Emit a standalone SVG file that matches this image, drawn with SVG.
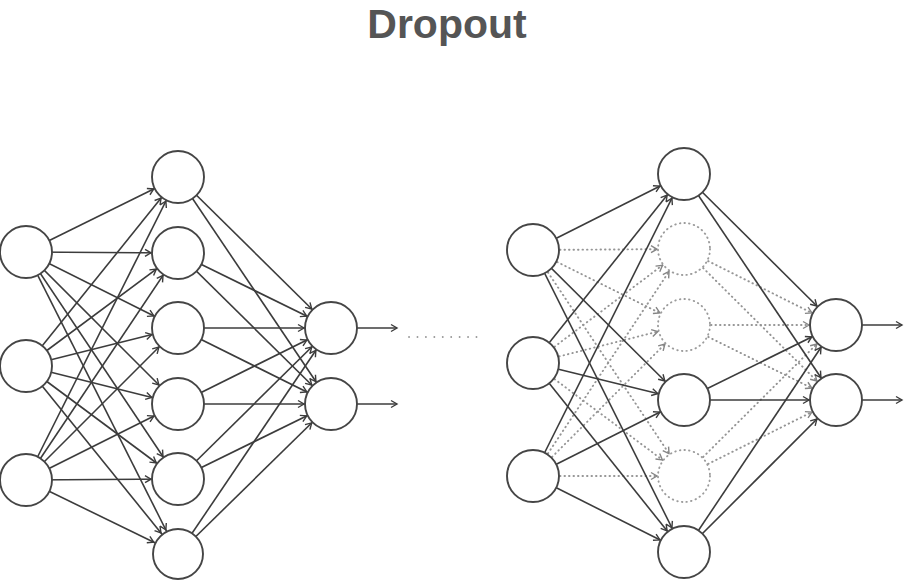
<svg xmlns="http://www.w3.org/2000/svg" width="904" height="580" viewBox="0 0 904 580">
<defs>
<style>
.title{font-family:"Liberation Sans",Arial,sans-serif;font-weight:bold;font-size:41px;fill:#555555;text-anchor:middle}
.c{stroke:#3c3c3c;stroke-width:1.6;fill:none}
.d{stroke:#959595;stroke-width:1.9;fill:none;stroke-dasharray:0.5 4;stroke-linecap:round}
.n{fill:#fff;stroke:#454545;stroke-width:1.9}
.nd{fill:#fff;stroke:#9c9c9c;stroke-width:1.9;stroke-dasharray:0.5 4.2;stroke-linecap:round}
</style>
<marker id="a" markerUnits="userSpaceOnUse" markerWidth="12" markerHeight="12" refX="33" refY="0" orient="auto" overflow="visible"><path d="M0,-3.5 L6,0 L0,3.5" fill="none" stroke="#3c3c3c" stroke-width="1.4"/></marker>
<marker id="ag" markerUnits="userSpaceOnUse" markerWidth="12" markerHeight="12" refX="33" refY="0" orient="auto" overflow="visible"><path d="M0,-3.5 L6,0 L0,3.5" fill="none" stroke="#858585" stroke-width="1.4"/></marker>
<marker id="ao" markerUnits="userSpaceOnUse" markerWidth="12" markerHeight="12" refX="6" refY="0" orient="auto" overflow="visible"><path d="M0,-3.5 L6,0 L0,3.5" fill="none" stroke="#3c3c3c" stroke-width="1.4"/></marker>
</defs>
<rect width="904" height="580" fill="#fff"/>
<text class="title" x="447" y="37.5">Dropout</text>

<g id="connectors">
<g class="c" marker-end="url(#a)">
<line x1="26" y1="252" x2="178" y2="177"/><line x1="26" y1="252" x2="178" y2="253"/><line x1="26" y1="252" x2="178" y2="328"/><line x1="26" y1="252" x2="178" y2="404"/><line x1="26" y1="252" x2="178" y2="479"/><line x1="26" y1="252" x2="178" y2="554"/>
<line x1="26" y1="366" x2="178" y2="177"/><line x1="26" y1="366" x2="178" y2="253"/><line x1="26" y1="366" x2="178" y2="328"/><line x1="26" y1="366" x2="178" y2="404"/><line x1="26" y1="366" x2="178" y2="479"/><line x1="26" y1="366" x2="178" y2="554"/>
<line x1="26" y1="480" x2="178" y2="177"/><line x1="26" y1="480" x2="178" y2="253"/><line x1="26" y1="480" x2="178" y2="328"/><line x1="26" y1="480" x2="178" y2="404"/><line x1="26" y1="480" x2="178" y2="479"/><line x1="26" y1="480" x2="178" y2="554"/>
<line x1="178" y1="177" x2="331" y2="328"/><line x1="178" y1="177" x2="331" y2="404"/>
<line x1="178" y1="253" x2="331" y2="328"/><line x1="178" y1="253" x2="331" y2="404"/>
<line x1="178" y1="328" x2="331" y2="328"/><line x1="178" y1="328" x2="331" y2="404"/>
<line x1="178" y1="404" x2="331" y2="328"/><line x1="178" y1="404" x2="331" y2="404"/>
<line x1="178" y1="479" x2="331" y2="328"/><line x1="178" y1="479" x2="331" y2="404"/>
<line x1="178" y1="554" x2="331" y2="328"/><line x1="178" y1="554" x2="331" y2="404"/>
</g>
<g class="c" marker-end="url(#ao)">
<line x1="357" y1="328" x2="397" y2="328"/><line x1="357" y1="404" x2="397" y2="404"/>
<line x1="862" y1="325" x2="902" y2="325"/><line x1="862" y1="400" x2="902" y2="400"/>
</g>
<line x1="409" y1="337" x2="484" y2="337" stroke="#999" stroke-width="1.8" stroke-linecap="round" stroke-dasharray="0.1 8.33"/>
<g class="d" marker-end="url(#ag)">
<line x1="533" y1="250" x2="684" y2="249"/><line x1="533" y1="250" x2="684" y2="325"/><line x1="533" y1="250" x2="684" y2="476"/>
<line x1="533" y1="363" x2="684" y2="249"/><line x1="533" y1="363" x2="684" y2="325"/><line x1="533" y1="363" x2="684" y2="476"/>
<line x1="533" y1="476" x2="684" y2="249"/><line x1="533" y1="476" x2="684" y2="325"/><line x1="533" y1="476" x2="684" y2="476"/>
<line x1="684" y1="249" x2="836" y2="325"/><line x1="684" y1="249" x2="836" y2="400"/>
<line x1="684" y1="325" x2="836" y2="325"/><line x1="684" y1="325" x2="836" y2="400"/>
<line x1="684" y1="476" x2="836" y2="325"/><line x1="684" y1="476" x2="836" y2="400"/>
</g>
<g class="c" marker-end="url(#a)">
<line x1="533" y1="250" x2="684" y2="174"/><line x1="533" y1="250" x2="684" y2="400"/><line x1="533" y1="250" x2="684" y2="552"/>
<line x1="533" y1="363" x2="684" y2="174"/><line x1="533" y1="363" x2="684" y2="400"/><line x1="533" y1="363" x2="684" y2="552"/>
<line x1="533" y1="476" x2="684" y2="174"/><line x1="533" y1="476" x2="684" y2="400"/><line x1="533" y1="476" x2="684" y2="552"/>
<line x1="684" y1="174" x2="836" y2="325"/><line x1="684" y1="174" x2="836" y2="400"/>
<line x1="684" y1="400" x2="836" y2="325"/><line x1="684" y1="400" x2="836" y2="400"/>
<line x1="684" y1="552" x2="836" y2="325"/><line x1="684" y1="552" x2="836" y2="400"/>
</g>
</g>

<g id="L-in1"><circle class="n" cx="26" cy="252" r="26"/></g>
<g id="L-in2"><circle class="n" cx="26" cy="366" r="26"/></g>
<g id="L-in3"><circle class="n" cx="26" cy="480" r="26"/></g>
<g id="L-h1"><circle class="n" cx="178" cy="177" r="26"/></g>
<g id="L-h2"><circle class="n" cx="178" cy="253" r="26"/></g>
<g id="L-h3"><circle class="n" cx="178" cy="328" r="26"/></g>
<g id="L-h4"><circle class="n" cx="178" cy="404" r="26"/></g>
<g id="L-h5"><circle class="n" cx="178" cy="479" r="26"/></g>
<g id="L-h6"><circle class="n" cx="178" cy="554" r="25"/></g>
<g id="L-o1"><circle class="n" cx="331" cy="328" r="26"/></g>
<g id="L-o2"><circle class="n" cx="331" cy="404" r="26"/></g>

<g id="R-in1"><circle class="n" cx="533" cy="250" r="26"/></g>
<g id="R-in2"><circle class="n" cx="533" cy="363" r="26"/></g>
<g id="R-in3"><circle class="n" cx="533" cy="476" r="26"/></g>
<g id="R-h1"><circle class="n" cx="684" cy="174" r="26"/></g>
<g id="R-h2"><circle class="nd" cx="684" cy="249" r="26"/></g>
<g id="R-h3"><circle class="nd" cx="684" cy="325" r="26"/></g>
<g id="R-h4"><circle class="n" cx="684" cy="400" r="26"/></g>
<g id="R-h5"><circle class="nd" cx="684" cy="476" r="26"/></g>
<g id="R-h6"><circle class="n" cx="684" cy="552" r="26"/></g>
<g id="R-o1"><circle class="n" cx="836" cy="325" r="26"/></g>
<g id="R-o2"><circle class="n" cx="836" cy="400" r="26"/></g>
</svg>
